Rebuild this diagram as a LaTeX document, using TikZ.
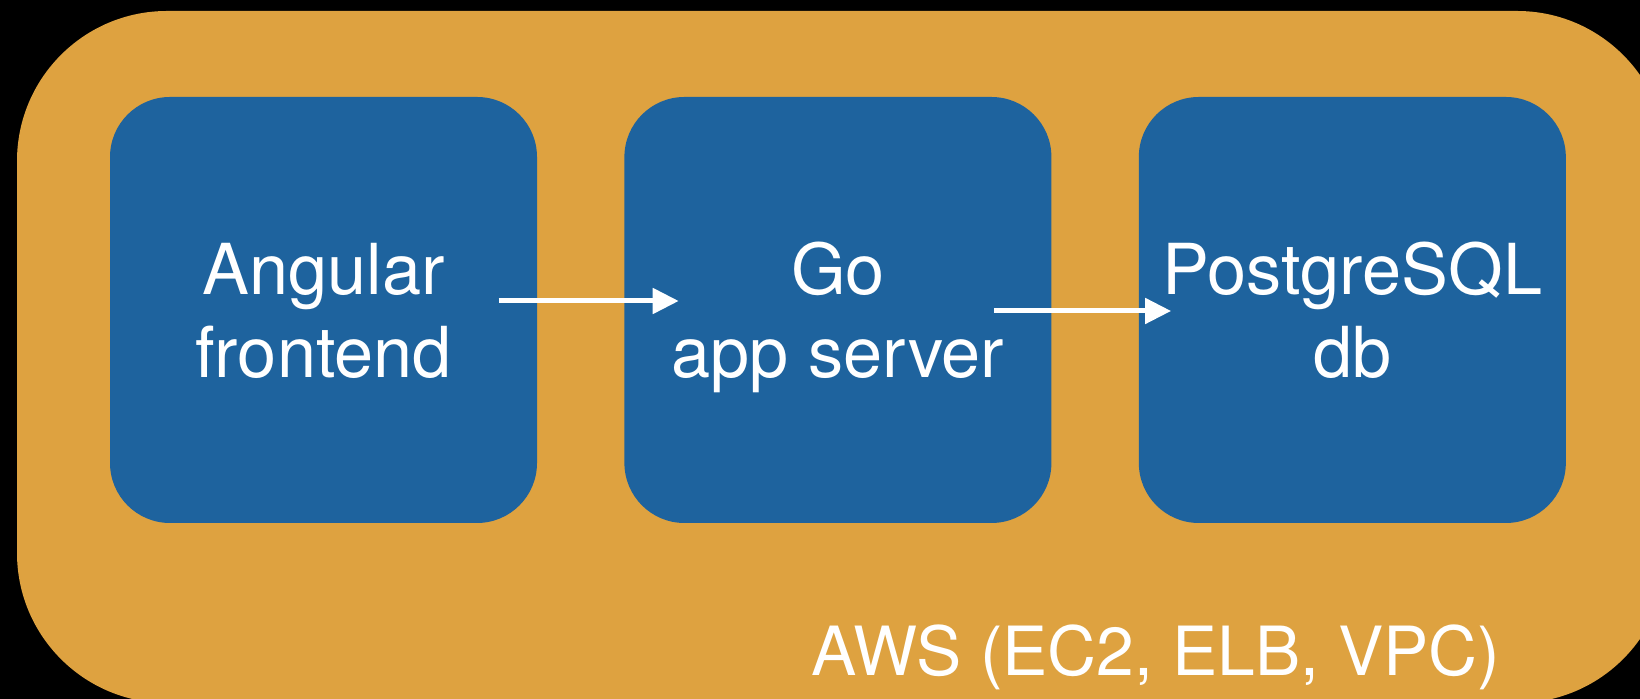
\documentclass[tikz,border=0pt]{standalone}
\usepackage{fontspec}
\setmainfont{TeX Gyre Heros}
\usetikzlibrary{calc,positioning,arrows.meta}
\definecolor{awsorange}{RGB}{222,162,64}
\definecolor{tierblue}{RGB}{30,99,158}
\tikzset{
  tier/.style={fill=tierblue, rounded corners=0.6cm, minimum width=4.27cm, minimum height=4.26cm,
    inner sep=0pt, text=white, align=center, text depth=0pt, font=\fontsize{20}{23.6}\selectfont},
  flow/.style={white, line width=0.05cm, -{Triangle[length=0.26cm,width=0.25cm]}}
}

\begin{document}
\begin{tikzpicture}
	%%%%% START %%%%%
	\useasboundingbox (0, 0) rectangle (16.4, 6.99);
	\fill[black] (0, 0) rectangle (16.4, 6.99);
	\fill[awsorange, rounded corners=1.5cm] (0.17, 6.88) rectangle (16.67, -0.04);
	
	\node[tier] (front) at (3.235, 3.89) {Angular\\frontend};
	\node[tier, right=0.86cm of front] (app) {Go\\app server};
	\node[tier, right=0.86cm of app] (db) {PostgreSQL\\db};
	
	\draw[flow] ($(front.east)+(-0.39, 0.09)$) -- ($(app.west)+(0.55, 0.09)$);
	\draw[flow] ($(app.east)+(-0.58, -0.01)$) -- ($(db.west)+(0.33, -0.01)$);
	
	\node[anchor=base, text=white, font=\fontsize{19.3}{23}\selectfont] (aws) at (11.56, 0.23) {AWS (EC2, ELB, VPC)};
	%%%%% END %%%%%
\end{tikzpicture}
\end{document}
